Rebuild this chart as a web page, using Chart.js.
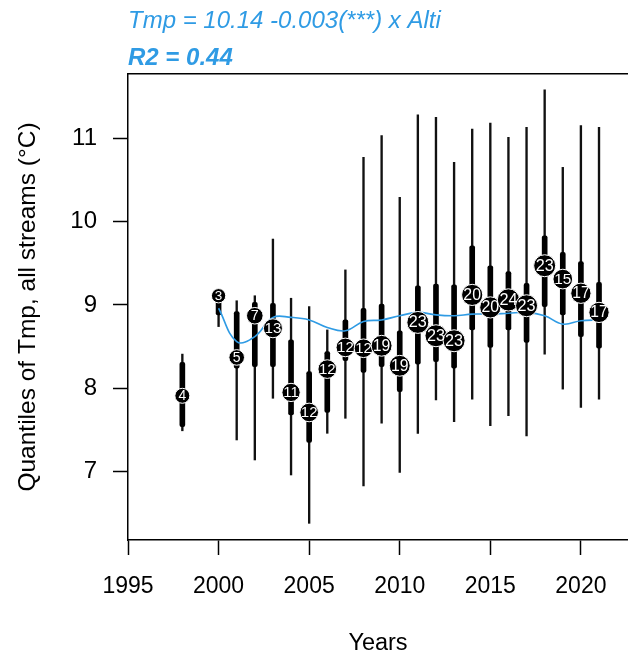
<!DOCTYPE html>
<html>
<head>
<meta charset="utf-8">
<script src="https://cdn.jsdelivr.net/npm/chart.js@4/dist/chart.umd.min.js"></script>
<style>
html,body{margin:0;padding:0;background:#fff;}
#wrap{width:628px;height:654px;position:relative;}
</style>
</head>
<body>
<div id="wrap"><canvas id="c"></canvas></div>
<script>
// ---- data ----
const years   = [1998,2000,2001,2002,2003,2004,2005,2006,2007,2008,2009,2010,2011,2012,2013,2014,2015,2016,2017,2018,2019,2020,2021];
const counts  = [4,3,5,7,13,11,12,12,12,12,19,19,23,23,23,20,20,24,23,23,15,17,17];
const medians = [7.91,9.11,8.37,8.87,8.72,7.95,7.71,8.23,8.49,8.48,8.51,8.27,8.79,8.63,8.57,9.12,8.97,9.06,8.99,9.47,9.31,9.14,8.91];
const q1s     = [7.54,8.88,8.24,8.26,8.26,7.68,7.35,7.71,8.33,8.19,8.26,7.96,8.29,8.32,8.24,8.70,8.49,8.70,8.55,8.98,8.88,8.62,8.48];
const q3s     = [8.31,9.14,8.92,9.03,9.02,8.58,8.20,8.44,8.82,8.96,9.01,8.69,9.23,9.25,9.24,9.71,9.47,9.40,9.26,9.83,9.63,9.52,9.27];
const mins    = [7.49,8.74,7.38,7.14,7.88,6.96,6.38,7.46,7.64,6.83,7.58,6.99,7.46,7.86,7.60,7.87,7.55,7.67,7.43,8.41,7.99,7.77,7.87];
const maxs    = [8.41,9.18,9.05,9.11,9.79,9.08,8.98,8.70,9.42,10.77,11.03,10.29,11.28,11.25,10.71,11.11,11.18,11.01,11.13,11.58,10.65,11.15,11.13];

const fitYears  = [2000,2001,2002,2003,2004,2005,2006,2007,2008,2009,2010,2011,2012,2013,2014,2015,2016,2017,2018,2019,2020,2021];
const fitValues = [8.96,8.56,8.62,8.85,8.85,8.82,8.73,8.69,8.80,8.82,8.87,8.91,8.88,8.87,8.89,8.89,8.90,8.91,8.87,8.77,8.81,8.82];

const xTickValues = [1995,2000,2005,2010,2015,2020];
const yTickValues = [7,8,9,10,11];

const titleLine1 = 'Tmp = 10.14 -0.003(***) x Alti';
const titleLine2 = 'R2 = 0.44';
const xTitle = 'Years';
const yTitle = 'Quantiles of Tmp, all streams (°C)';

// ---- styles ----
const FONT = '"Liberation Sans", Arial, sans-serif';
const BLUE = '#2f9be4';
const radiusFor = n => 5 + 1.25 * Math.sqrt(n);

const whiskerData = years.map((y,i)=>({x:y, y:[mins[i], maxs[i]]}));
const boxData     = years.map((y,i)=>({x:y, y:[q1s[i], q3s[i]]}));
const medianData  = years.map((y,i)=>({x:y, y:medians[i]}));
const fitData     = fitYears.map((y,i)=>({x:y, y:fitValues[i]}));

const labelPlugin = {
  id:'countLabels',
  afterDatasetsDraw(chart){
    const meta = chart.getDatasetMeta(3);
    const ctx = chart.ctx;
    ctx.save();
    ctx.fillStyle = '#fff';
    ctx.textAlign = 'center';
    ctx.textBaseline = 'middle';
    meta.data.forEach((el,i)=>{
      const r = radiusFor(counts[i]);
      ctx.font = (0.7 * r + 8.5).toFixed(1) + 'px ' + FONT;
      ctx.fillText(String(counts[i]), el.x, el.y + 0.5);
    });
    ctx.restore();
  }
};

const titlePlugin = {
  id:'topTitles',
  afterDraw(chart){
    const ctx = chart.ctx;
    const left = chart.chartArea.left;
    ctx.save();
    ctx.fillStyle = BLUE;
    ctx.textAlign = 'left';
    ctx.textBaseline = 'alphabetic';
    ctx.font = 'italic 24px ' + FONT;
    ctx.fillText(titleLine1, left, 28);
    ctx.font = 'italic bold 24px ' + FONT;
    ctx.fillText(titleLine2, left, 65);
    ctx.restore();
  }
};

new Chart(document.getElementById('c'), {
  type:'bar',
  data:{
    datasets:[
      {type:'bar', data:whiskerData, backgroundColor:'#111', barThickness:1.7, grouped:false, order:4, borderWidth:0},
      {type:'bar', data:boxData, backgroundColor:'#000', barThickness:5, grouped:false, order:3, borderRadius:2, borderSkipped:false, borderWidth:0},
      {type:'line', data:fitData, borderColor:BLUE, borderWidth:1.6, pointRadius:0, tension:0.4, fill:false, order:2},
      {type:'line', data:medianData, showLine:false, order:1,
        pointRadius:ctx=>radiusFor(counts[ctx.dataIndex]),
        pointBackgroundColor:'#000', pointBorderColor:'#fff', pointBorderWidth:1}
    ]
  },
  options:{
    responsive:true, maintainAspectRatio:false, animation:false, devicePixelRatio:1,
    layout:{autoPadding:false, padding:{top:74,left:0,right:0,bottom:0}},
    plugins:{legend:{display:false}, tooltip:{enabled:false}},
    scales:{
      x:{type:'linear', position:'bottom', min:1995, max:2022.6, offset:false,
        afterBuildTicks:s=>{s.ticks = xTickValues.map(v=>({value:v}));},
        afterFit:s=>{s.height = 114; s.paddingLeft = 0; s.paddingRight = 0;},
        grid:{display:true, offset:false, drawOnChartArea:false, drawTicks:true, tickLength:15, tickWidth:1.5, tickColor:'#000'},
        border:{display:true, color:'#000', width:1.5},
        ticks:{color:'#000', font:{family:FONT, size:23}, padding:18, maxRotation:0, autoSkip:false,
          callback:v=>String(v)},
        title:{display:true, text:xTitle, color:'#000', font:{family:FONT, size:23.5, lineHeight:0.9}, padding:0}
      },
      xTop:{type:'linear', position:'top', min:1995, max:2022.6, offset:false,
        afterFit:s=>{s.height = 0; s.paddingLeft = 0; s.paddingRight = 0;},
        grid:{display:false, drawTicks:false},
        border:{display:true, color:'#000', width:1.5},
        ticks:{display:false}
      },
      y:{type:'linear', position:'left', min:6.18, max:11.77,
        afterBuildTicks:s=>{s.ticks = yTickValues.map(v=>({value:v}));},
        afterFit:s=>{s.width = 128;},
        grid:{display:true, offset:false, drawOnChartArea:false, drawTicks:true, tickLength:15, tickWidth:1.5, tickColor:'#000'},
        border:{display:true, color:'#000', width:1.5},
        ticks:{color:'#000', font:{family:FONT, size:24}, padding:16, callback:v=>String(v)},
        title:{display:true, text:yTitle, color:'#000', font:{family:FONT, size:24.5, lineHeight:1.2}, padding:{top:14,bottom:0}}
      }
    }
  },
  plugins:[labelPlugin, titlePlugin]
});
</script>
</body>
</html>
